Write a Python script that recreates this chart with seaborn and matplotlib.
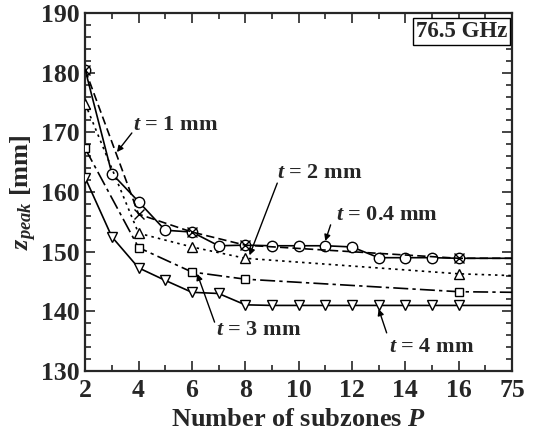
import matplotlib
import seaborn as sns
import numpy as np
import pandas as pd
import matplotlib.pyplot as plt
from matplotlib.ticker import MultipleLocator

# number of subzones P (75 is drawn two slots after 16)
p_ticks = [2, 4, 6, 8, 10, 12, 14, 16, 75]
p_pos = {p: p for p in range(2, 17)}
p_pos[75] = 18

p_04 = [2, 3, 4, 5, 6, 7, 8, 9, 10, 11, 12, 13, 14, 15, 16, 75]
z_04 = [180.5, 163.1, 158.4, 153.6, 153.3, 151.0, 151.1, 151.0, 151.0, 151.0, 150.8,
        149.0, 149.0, 149.0, 148.9, 148.9]

p_1 = [2, 4, 6, 8, 16, 75]
z_1 = [180.5, 156.3, 153.3, 151.1, 148.9, 148.9]

p_2 = [2, 4, 6, 8, 16, 75]
z_2 = [174.8, 153.1, 150.8, 148.9, 146.3, 146.0]

p_3 = [2, 4, 6, 8, 16, 75]
z_3 = [167.3, 150.7, 146.6, 145.4, 143.3, 143.2]

p_4 = [2, 3, 4, 5, 6, 7, 8, 9, 10, 11, 12, 13, 14, 15, 16, 75]
z_4 = [162.4, 152.5, 147.3, 145.2, 143.2, 143.0, 141.1, 141.0, 141.0, 141.0, 141.0,
       141.0, 141.0, 141.0, 141.0, 141.0]

series = [
    ('t = 0.4 mm', p_04, z_04, 'o', '-', 7.5, 2),
    ('t = 2 mm', p_2, z_2, '^', (0, (1.5, 2.5)), 6.5, 3),
    ('t = 3 mm', p_3, z_3, 's', (0, (9, 2.5, 2, 2.5)), 6, 3),
    ('t = 4 mm', p_4, z_4, 'v', '-', 6.5, 3),
    ('t = 1 mm', p_1, z_1, 'x', (0, (5, 2.5)), 6.5, 4),
]

with sns.axes_style("ticks"):
    matplotlib.rcParams['font.family'] = 'Liberation Serif'
    matplotlib.rcParams['font.weight'] = 'bold'
    matplotlib.rcParams['mathtext.fontset'] = 'custom'
    matplotlib.rcParams['mathtext.it'] = 'Liberation Serif:italic:bold'
    matplotlib.rcParams['mathtext.rm'] = 'Liberation Serif:bold'

    fig = plt.figure(figsize=(5.39, 4.34), dpi=100)
    ax = fig.add_axes([0.158, 0.145, 0.792, 0.825])

    for name, p, z, mk, ls, ms, zo in series:
        df = pd.DataFrame({'pos': [p_pos[v] for v in p], 'z': z})
        sns.lineplot(data=df, x='pos', y='z', ax=ax, color='k', lw=1.2,
                     linestyle=ls, marker=mk, markersize=ms,
                     markerfacecolor='white' if mk != 'x' else 'k',
                     markeredgecolor='k', markeredgewidth=1.0,
                     markevery=list(range(len(p) - 1)), zorder=zo)

    ax.set_xlim(2, 18)
    ax.set_ylim(130, 190)
    ax.set_xticks([p_pos[v] for v in p_ticks])
    ax.set_xticklabels([str(v) for v in p_ticks])
    ax.xaxis.set_minor_locator(MultipleLocator(1))
    ax.yaxis.set_major_locator(MultipleLocator(10))
    ax.yaxis.set_minor_locator(MultipleLocator(2))
    ax.tick_params(which='both', direction='in', top=True, right=True, width=1.2,
                   labelsize=18.5, pad=4)
    ax.tick_params(axis='x', which='major', pad=6)
    ax.tick_params(which='major', length=7)
    ax.tick_params(which='minor', length=4)
    for lbl in ax.get_xticklabels() + ax.get_yticklabels():
        lbl.set_fontweight('bold')
    for s in ax.spines.values():
        s.set_linewidth(1.6)

    ax.set_xlabel('Number of subzones $P$', fontsize=19, fontweight='bold', labelpad=4)
    ax.set_ylabel('$z_{peak}$ [mm]', fontsize=19, fontweight='bold', labelpad=1)

    ax.text(0.988, 0.978, '76.5 GHz', transform=ax.transAxes, ha='right', va='top',
            fontsize=16.5, fontweight='bold',
            bbox=dict(boxstyle='square,pad=0.12', fc='white', ec='k', lw=1.0))

    arrow = dict(arrowstyle='-|>', color='k', lw=1.0, mutation_scale=9,
                 shrinkA=0, shrinkB=0)
    notes = [
        ('$t$ = 1 mm', (5.4, 171.3), (3.75, 169.9), (3.19, 166.7)),
        ('$t$ = 2 mm', (10.8, 163.2), (9.2, 161.5), (8.16, 149.4)),
        ('$t$ = 0.4 mm', (13.3, 156.1), (11.2, 154.5), (11.0, 151.8)),
        ('$t$ = 3 mm', (8.5, 136.9), (6.85, 138.2), (6.2, 146.3)),
        ('$t$ = 4 mm', (15.0, 134.0), (13.3, 136.4), (13.0, 140.4)),
    ]
    for txt, tpos, start, tip in notes:
        ax.text(tpos[0], tpos[1], txt, ha='center', va='center', fontsize=16,
                fontweight='bold')
        ax.annotate('', xy=tip, xytext=start, arrowprops=arrow)

    plt.savefig('out.png', dpi=100)
